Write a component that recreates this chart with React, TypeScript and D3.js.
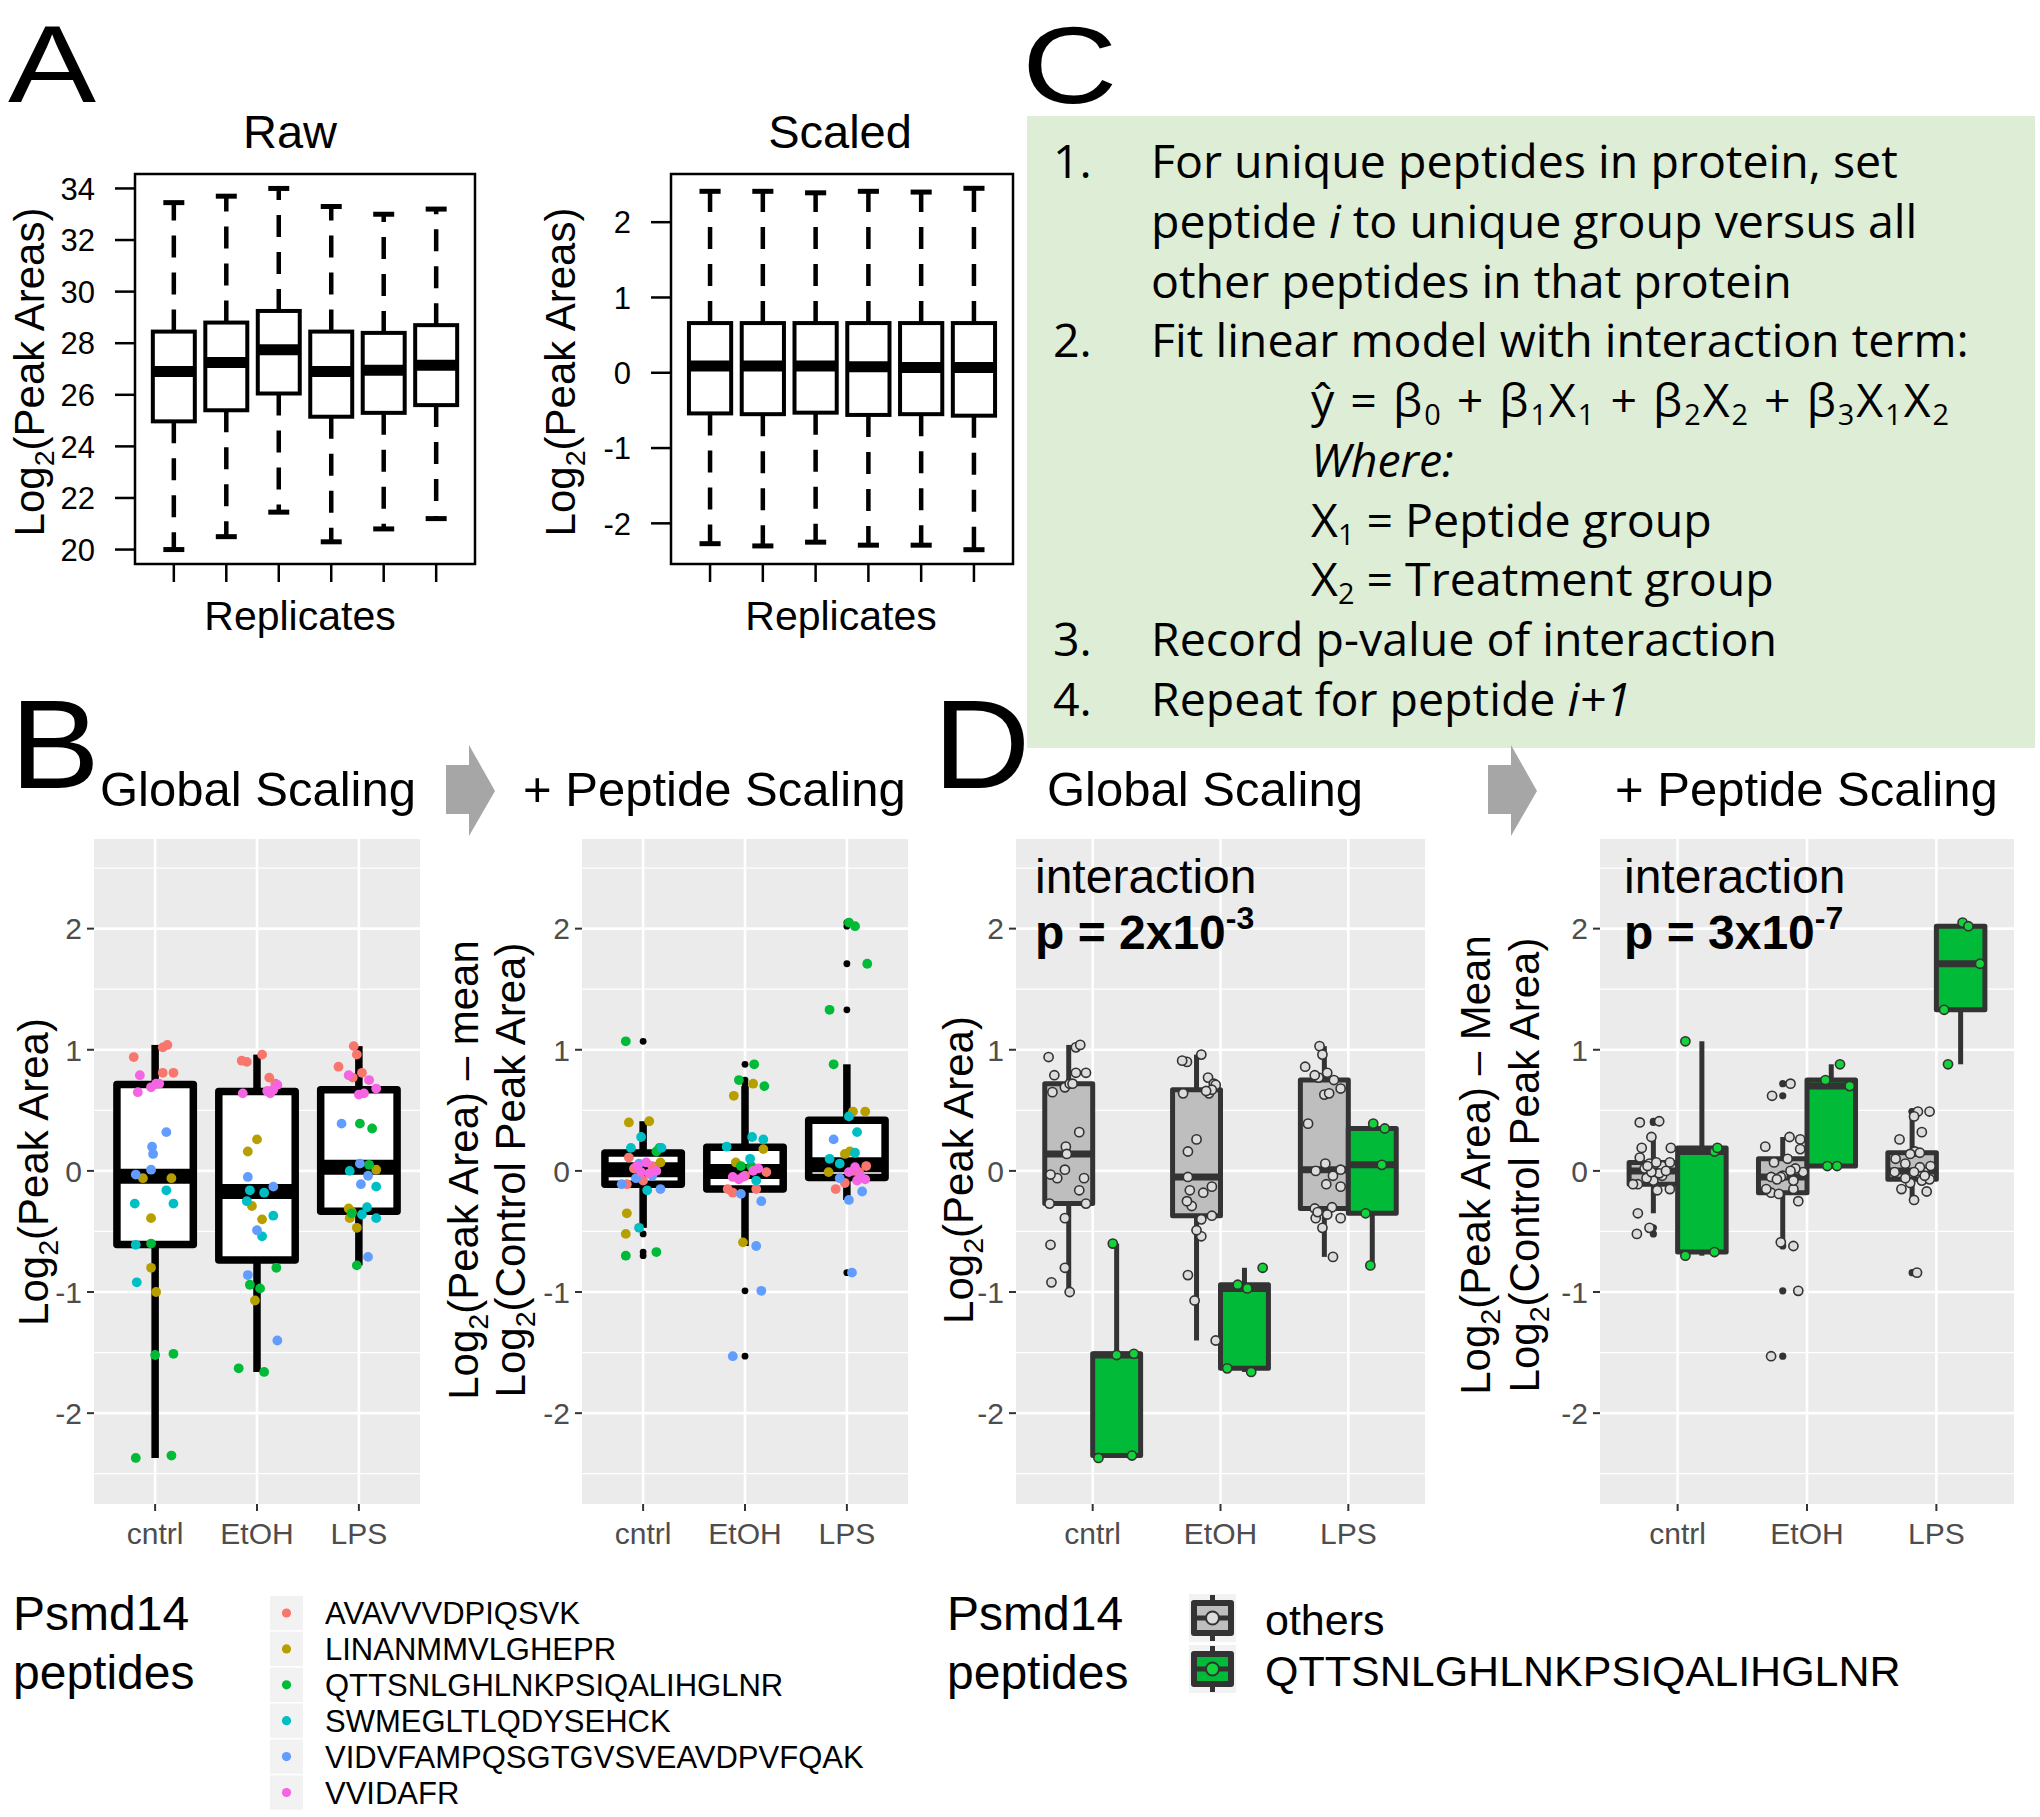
import React from 'react';
import * as d3 from 'd3';

const W = 2040;
const H = 1817;
const FONT = "'Liberation Sans', Arial, Helvetica, sans-serif";
const CFONT = "'Open Sans', 'Noto Sans', sans-serif";

// ---------------- Panel A data ----------------
const REPLICATES = [1, 2, 3, 4, 5, 6];
const RAW_LOW = [20.0, 20.5, 21.45, 20.3, 20.8, 21.2];
const RAW_Q1 = [24.97, 25.4, 26.05, 25.15, 25.3, 25.6];
const RAW_MED = [26.9, 27.25, 27.75, 26.9, 26.95, 27.15];
const RAW_Q3 = [28.45, 28.8, 29.25, 28.45, 28.4, 28.7];
const RAW_HIGH = [33.45, 33.7, 34.0, 33.3, 33.0, 33.2];
const RAW_TICKS = [20, 22, 24, 26, 28, 30, 32, 34];

const SCALED_LOW = [-2.27, -2.3, -2.25, -2.29, -2.29, -2.35];
const SCALED_Q1 = [-0.54, -0.55, -0.53, -0.56, -0.55, -0.57];
const SCALED_MED = [0.09, 0.09, 0.09, 0.08, 0.07, 0.07];
const SCALED_Q3 = [0.66, 0.66, 0.66, 0.66, 0.66, 0.66];
const SCALED_HIGH = [2.41, 2.41, 2.39, 2.41, 2.4, 2.45];
const SCALED_TICKS = [-2, -1, 0, 1, 2];

// ---------------- Panels B / D data ----------------
const GROUPS = ['cntrl', 'EtOH', 'LPS'];
const PEPTIDES = [
  'AVAVVVDPIQSVK',
  'LINANMMVLGHEPR',
  'QTTSNLGHLNKPSIQALIHGLNR',
  'SWMEGLTLQDYSEHCK',
  'VIDVFAMPQSGTGVSVEAVDPVFQAK',
  'VVIDAFR',
];
const PEPTIDE_COLORS = ['#F8766D', '#B79F00', '#00BA38', '#00BFC4', '#619CFF', '#F564E3'];
const UNIQUE_PEPTIDE = 2;
const D_LEGEND = ['others', 'QTTSNLGHLNKPSIQALIHGLNR'];
const GG_TICKS = [-2, -1, 0, 1, 2];
const GG_MINOR = [-2.5, -1.5, -0.5, 0.5, 1.5, 2.5];

// Global scaling: [cntrl, EtOH, LPS] x 5 replicates
const GLOBAL_AVAV = [[0.94, 1.02, 1.04, 0.81, 0.81], [0.96, 0.9, 0.91, 0.77, 0.72], [1.03, 0.96, 0.86, 0.81, 0.77]];
const GLOBAL_LINA = [[-0.06, -0.06, -0.39, -0.8, -1.0], [0.26, 0.16, -0.29, -0.4, -1.07], [0.01, -0.31, -0.39, -0.47, -0.34]];
const GLOBAL_QTTS = [[-0.6, -1.52, -1.51, -2.37, -2.35], [-0.8, -0.94, -0.97, -1.63, -1.66], [0.39, 0.35, 0.05, -0.35, -0.78]];
const GLOBAL_SWME = [[-0.27, -0.16, -0.27, -0.61, -0.92], [-0.16, -0.18, -0.25, -0.37, -0.54], [0.0, -0.13, -0.3, -0.36, -0.39]];
const GLOBAL_VIDV = [[0.32, 0.2, 0.14, 0.01, -0.03], [-0.05, -0.13, -0.49, -0.86, -1.4], [0.39, 0.06, -0.04, -0.11, -0.71]];
const GLOBAL_VVID = [[0.79, 0.65, 0.69, 0.72, 0.72], [0.64, 0.64, 0.71, 0.67, 0.66], [0.79, 0.75, 0.68, 0.63, 0.64]];
const GLOBAL_VALUES = [GLOBAL_AVAV, GLOBAL_LINA, GLOBAL_QTTS, GLOBAL_SWME, GLOBAL_VIDV, GLOBAL_VVID];

// Peptide scaling: [cntrl, EtOH, LPS] x 5 replicates
const PEPSC_AVAV = [[-0.11, 0.02, 0.11, 0.04, -0.08], [-0.18, -0.15, -0.01, -0.04, -0.15], [-0.15, -0.1, 0.04, -0.01, 0.0]];
const PEPSC_LINA = [[0.4, 0.41, -0.35, -0.52, 0.07], [0.62, 0.72, 0.18, 0.07, -0.59], [0.49, 0.49, 0.16, -0.01, 0.14]];
const PEPSC_QTTS = [[1.07, -0.7, -0.67, 0.16, 0.19], [0.88, 0.75, 0.7, 0.04, 0.04], [2.05, 2.02, 1.71, 1.33, 0.88]];
const PEPSC_SWME = [[0.28, 0.19, -0.16, -0.47, 0.19], [0.28, 0.26, 0.2, 0.1, -0.08], [0.45, 0.32, 0.15, 0.1, 0.06]];
const PEPSC_VIDV = [[-0.15, -0.11, 0.06, -0.04, -0.06], [-0.25, -0.62, -0.99, -1.53, -0.19], [0.26, -0.24, -0.17, -0.84, -0.06]];
const PEPSC_VVID = [[0.07, -0.02, -0.01, 0.0, 0.04], [-0.05, -0.05, 0.02, -0.07, 0.0], [0.03, -0.08, -0.07, -0.01, -0.04]];
const PEPSC_VALUES = [PEPSC_AVAV, PEPSC_LINA, PEPSC_QTTS, PEPSC_SWME, PEPSC_VIDV, PEPSC_VVID];

// horizontal jitter (category units)
const JIT_GLOBAL = [
  [[-0.21, 0.075, 0.12, 0.075, 0.18], [0.05, -0.1, -0.15, 0.12, 0.18], [-0.05, -0.02, -0.2, 0.03, -0.06]],
  [[-0.12, 0.16, -0.04, -0.04, 0.01], [0.0, -0.09, -0.05, 0.05, -0.02], [0.17, -0.1, -0.09, -0.02, -0.07]],
  [[-0.04, 0.0, 0.18, -0.19, 0.16], [0.19, -0.07, 0.03, -0.18, 0.07], [0.01, 0.13, 0.1, -0.07, -0.02]],
  [[-0.2, 0.11, 0.18, -0.19, -0.18], [-0.07, 0.07, -0.1, 0.16, 0.05], [-0.09, 0.17, 0.08, 0.03, 0.17]],
  [[0.11, -0.03, -0.02, -0.04, -0.19], [-0.09, 0.16, 0.0, -0.09, 0.2], [-0.17, 0.01, 0.09, 0.02, 0.09]],
  [[-0.15, -0.17, -0.04, 0.01, 0.04], [-0.14, 0.13, 0.2, 0.16, 0.1], [-0.1, 0.1, 0.17, 0.0, 0.05]],
];
const JIT_PEPSC = [
  [[-0.16, -0.09, -0.14, 0.09, 0.0], [-0.12, 0.11, 0.21, 0.0, -0.17], [-0.11, -0.02, 0.19, 0.12, 0.07]],
  [[-0.14, 0.06, -0.16, -0.17, 0.17], [-0.11, 0.08, 0.18, -0.09, -0.02], [0.06, 0.18, 0.03, -0.18, -0.02]],
  [[-0.17, -0.17, 0.13, 0.13, 0.16], [0.09, -0.06, 0.19, -0.04, 0.06], [0.02, 0.08, 0.2, -0.17, -0.13]],
  [[-0.02, -0.12, 0.04, -0.04, 0.18], [0.07, 0.18, -0.18, 0.05, 0.11], [0.02, 0.1, 0.08, -0.17, -0.07]],
  [[0.17, -0.21, -0.04, 0.09, -0.07], [0.16, 0.11, 0.16, -0.12, -0.04], [-0.13, 0.02, 0.15, 0.05, -0.07]],
  [[0.03, 0.06, -0.02, 0.13, -0.06], [-0.12, -0.02, 0.13, -0.06, 0.08], [0.08, 0.1, 0.18, 0.02, 0.13]],
];

// ---------------- Panel C text ----------------
type Seg = [string, string];
const C_LINES: { num: string; level: number; segs: Seg[]; fit?: number }[] = [
  { num: '1.', level: 0, segs: [['For unique peptides in protein, set', 'n']] },
  { num: '', level: 0, segs: [['peptide ', 'n'], ['i', 'i'], [' to unique group versus all', 'n']] },
  { num: '', level: 0, segs: [['other peptides in that protein', 'n']] },
  { num: '2.', level: 0, segs: [['Fit linear model with interaction term:', 'n']] },
  {
    num: '', level: 1, fit: 638,
    segs: [['ŷ = β', 'n'], ['0', 's'], [' + β', 'n'], ['1', 's'], ['X', 'n'], ['1', 's'], [' + β', 'n'], ['2', 's'], ['X', 'n'], ['2', 's'],
      [' + β', 'n'], ['3', 's'], ['X', 'n'], ['1', 's'], ['X', 'n'], ['2', 's']],
  },
  { num: '', level: 1, segs: [['Where:', 'i']] },
  { num: '', level: 1, segs: [['X', 'n'], ['1', 's'], [' = Peptide group', 'n']] },
  { num: '', level: 1, segs: [['X', 'n'], ['2', 's'], [' = Treatment group', 'n']] },
  { num: '3.', level: 0, segs: [['Record p-value of interaction', 'n']] },
  { num: '4.', level: 0, segs: [['Repeat for peptide ', 'n'], ['i+1', 'i']] },
];

// ---------------- helpers ----------------
function boxStats(vals: number[]) {
  const s = [...vals].sort(d3.ascending);
  const q1 = d3.quantileSorted(s, 0.25) as number;
  const med = d3.quantileSorted(s, 0.5) as number;
  const q3 = d3.quantileSorted(s, 0.75) as number;
  const iqr = q3 - q1;
  const lo = q1 - 1.5 * iqr;
  const hi = q3 + 1.5 * iqr;
  const inside = s.filter((v) => v >= lo && v <= hi);
  return { q1, med, q3, wlo: d3.min(inside) as number, whi: d3.max(inside) as number, out: s.filter((v) => v < lo || v > hi) };
}

function Log2Label({ cx, cy, rest, fs = 42 }: { cx: number; cy: number; rest: string; fs?: number }) {
  return (
    <text transform={`translate(${cx + fs * 0.36},${cy}) rotate(-90)`} textAnchor="middle" fontSize={fs} fill="#000">
      Log
      <tspan fontSize={fs * 0.68} dy={fs * 0.24}>2</tspan>
      <tspan dy={-fs * 0.24}>{rest}</tspan>
    </text>
  );
}

function BigLetter({ x, y, ch, fs, sx }: { x: number; y: number; ch: string; fs: number; sx: number }) {
  return (
    <text transform={`translate(${x},${y}) scale(${sx},1)`} fontSize={fs} fill="#000">{ch}</text>
  );
}

// ---------------- Panel A: base-R style boxplots ----------------
function BasePanel(props: {
  left: number; right: number; top: number; bottom: number; domain: [number, number]; ticks: number[];
  low: number[]; q1: number[]; med: number[]; q3: number[]; high: number[]; title: string; ylabelX: number;
  titleX: number; xlabX: number;
}) {
  const { left, right, top, bottom, domain, ticks, low, q1, med, q3, high, title, ylabelX, titleX, xlabX } = props;
  const y = d3.scaleLinear().domain(domain).range([bottom, top]);
  const x = d3.scaleLinear().domain([0.26, 6.74]).range([left, right]);
  const unit = x(2) - x(1);
  const hw = 0.4 * unit;
  return (
    <g>
      <text x={titleX} y={148} textAnchor="middle" fontSize={47}>{title}</text>
      <rect x={left} y={top} width={right - left} height={bottom - top} fill="none" stroke="#000" strokeWidth={2.5} />
      {ticks.map((t) => (
        <g key={t}>
          <line x1={left - 20} x2={left} y1={y(t)} y2={y(t)} stroke="#000" strokeWidth={2.5} />
          <text x={left - 40} y={y(t)} dy="0.36em" textAnchor="end" fontSize={31}>{t}</text>
        </g>
      ))}
      {REPLICATES.map((r, i) => {
        const px = x(r);
        return (
          <g key={r}>
            <line x1={px} x2={px} y1={bottom} y2={bottom + 18} stroke="#000" strokeWidth={2.5} />
            <line x1={px} x2={px} y1={y(q3[i])} y2={y(high[i])} stroke="#000" strokeWidth={4.5} strokeDasharray="22 15" />
            <line x1={px} x2={px} y1={y(q1[i])} y2={y(low[i])} stroke="#000" strokeWidth={4.5} strokeDasharray="22 15" />
            <line x1={px - hw / 2} x2={px + hw / 2} y1={y(high[i])} y2={y(high[i])} stroke="#000" strokeWidth={5} />
            <line x1={px - hw / 2} x2={px + hw / 2} y1={y(low[i])} y2={y(low[i])} stroke="#000" strokeWidth={5} />
            <rect x={px - hw} y={y(q3[i])} width={2 * hw} height={y(q1[i]) - y(q3[i])} fill="#fff" stroke="#000" strokeWidth={4} />
            <line x1={px - hw} x2={px + hw} y1={y(med[i])} y2={y(med[i])} stroke="#000" strokeWidth={11} />
          </g>
        );
      })}
      <text x={xlabX} y={630} textAnchor="middle" fontSize={41}>Replicates</text>
      <Log2Label cx={ylabelX} cy={372} rest="(Peak Areas)" fs={42} />
    </g>
  );
}

// ---------------- ggplot-like panel frame ----------------
const GG_TOP = 839;
const GG_BOTTOM = 1504;
const yGG = d3.scaleLinear().domain([-2.75, 2.74]).range([GG_BOTTOM, GG_TOP]);

function GGFrame({ x0, x1 }: { x0: number; x1: number }) {
  const x = d3.scaleLinear().domain([0.4, 3.6]).range([x0, x1]);
  return (
    <g>
      <rect x={x0} y={GG_TOP} width={x1 - x0} height={GG_BOTTOM - GG_TOP} fill="#EBEBEB" />
      {GG_MINOR.map((t) => (
        <line key={'m' + t} x1={x0} x2={x1} y1={yGG(t)} y2={yGG(t)} stroke="#fff" strokeWidth={1.3} />
      ))}
      {GG_TICKS.map((t) => (
        <line key={'M' + t} x1={x0} x2={x1} y1={yGG(t)} y2={yGG(t)} stroke="#fff" strokeWidth={2.6} />
      ))}
      {GROUPS.map((g, i) => (
        <line key={g} x1={x(i + 1)} x2={x(i + 1)} y1={GG_TOP} y2={GG_BOTTOM} stroke="#fff" strokeWidth={2.6} />
      ))}
      {GG_TICKS.map((t) => (
        <g key={'t' + t}>
          <line x1={x0 - 7} x2={x0} y1={yGG(t)} y2={yGG(t)} stroke="#333" strokeWidth={2} />
          <text x={x0 - 12} y={yGG(t)} dy="0.36em" textAnchor="end" fontSize={30} fill="#4D4D4D">{t}</text>
        </g>
      ))}
      {GROUPS.map((g, i) => (
        <g key={'x' + g}>
          <line x1={x(i + 1)} x2={x(i + 1)} y1={GG_BOTTOM} y2={GG_BOTTOM + 7} stroke="#333" strokeWidth={2} />
          <text x={x(i + 1)} y={1544} textAnchor="middle" fontSize={30} fill="#4D4D4D">{g}</text>
        </g>
      ))}
    </g>
  );
}

function GGBox({ cx, hw, st, fill, stroke, lw, medLw, outR, outFill }: any) {
  return (
    <g>
      <line x1={cx} x2={cx} y1={yGG(st.q3)} y2={yGG(st.whi)} stroke={stroke} strokeWidth={lw} />
      <line x1={cx} x2={cx} y1={yGG(st.q1)} y2={yGG(st.wlo)} stroke={stroke} strokeWidth={lw} />
      <rect x={cx - hw} y={yGG(st.q3)} width={2 * hw} height={Math.max(0.1, yGG(st.q1) - yGG(st.q3))}
        fill={fill} stroke={stroke} strokeWidth={lw} strokeLinejoin="round" />
      <line x1={cx - hw} x2={cx + hw} y1={yGG(st.med)} y2={yGG(st.med)} stroke={stroke} strokeWidth={medLw} />
      {st.out.map((v: number, k: number) => (
        <circle key={k} cx={cx} cy={yGG(v)} r={outR} fill={outFill} />
      ))}
    </g>
  );
}

// Panel B: colored peptide points over one box per group
function BPanel({ x0, x1, values, jitter }: { x0: number; x1: number; values: number[][][]; jitter: number[][][] }) {
  const x = d3.scaleLinear().domain([0.4, 3.6]).range([x0, x1]);
  const unit = x(2) - x(1);
  return (
    <g>
      <GGFrame x0={x0} x1={x1} />
      {GROUPS.map((g, gi) => {
        const all = values.flatMap((pep) => pep[gi]);
        const st = boxStats(all);
        return (
          <GGBox key={g} cx={x(gi + 1)} hw={0.375 * unit} st={st} fill="#fff" stroke="#000" lw={7.5} medLw={15} outR={3.4} outFill="#000" />
        );
      })}
      {values.map((pep, pi) =>
        pep.map((grp, gi) =>
          grp.map((v, ri) => (
            <circle key={`${pi}-${gi}-${ri}`} cx={x(gi + 1 + jitter[pi][gi][ri])} cy={yGG(v)} r={4.9} fill={PEPTIDE_COLORS[pi]} />
          ))
        )
      )}
    </g>
  );
}

const D_GRAY_FILL = '#BEBEBE';
const D_GREEN_FILL = '#00BA38';
const D_POINT_GRAY = '#DCDCDC';
const D_POINT_GREEN = '#12D43A';
const D_STROKE = '#333333';

// Panel D: others vs unique peptide, dodged
function DPanel({ x0, x1, values, jitter }: { x0: number; x1: number; values: number[][][]; jitter: number[][][] }) {
  const x = d3.scaleLinear().domain([0.4, 3.6]).range([x0, x1]);
  const unit = x(2) - x(1);
  const hw = 0.1875 * unit;
  return (
    <g>
      <GGFrame x0={x0} x1={x1} />
      {GROUPS.map((g, gi) => {
        const others = values.filter((_, pi) => pi !== UNIQUE_PEPTIDE).flatMap((pep) => pep[gi]);
        const uniq = values[UNIQUE_PEPTIDE][gi];
        return (
          <g key={g}>
            <GGBox cx={x(gi + 1 - 0.1875)} hw={hw} st={boxStats(others)} fill={D_GRAY_FILL} stroke={D_STROKE} lw={5} medLw={7} outR={3.6} outFill={D_STROKE} />
            <GGBox cx={x(gi + 1 + 0.1875)} hw={hw} st={boxStats(uniq)} fill={D_GREEN_FILL} stroke={D_STROKE} lw={5} medLw={7} outR={3.6} outFill={D_STROKE} />
          </g>
        );
      })}
      {values.map((pep, pi) =>
        pep.map((grp, gi) =>
          grp.map((v, ri) => {
            const isU = pi === UNIQUE_PEPTIDE;
            const c = gi + 1 + (isU ? 0.1875 : -0.1875) + jitter[pi][gi][ri] * 0.75;
            return (
              <circle key={`${pi}-${gi}-${ri}`} cx={x(c)} cy={yGG(v)} r={4.6}
                fill={isU ? D_POINT_GREEN : D_POINT_GRAY} stroke={D_STROKE} strokeWidth={1.6} />
            );
          })
        )
      )}
    </g>
  );
}

function PValue({ x, mant, exp }: { x: number; mant: string; exp: string }) {
  return (
    <g>
      <text x={x} y={893} fontSize={48} fill="#000">interaction</text>
      <text x={x} y={949} fontSize={48} fontWeight="bold" fill="#000">
        {`p = ${mant}x10`}
        <tspan fontSize={32} dy={-20}>{exp}</tspan>
      </text>
    </g>
  );
}

function Arrow({ x }: { x: number }) {
  const pts = [[0, 765], [23, 765], [23, 745], [49, 791], [23, 836], [23, 814], [0, 814]];
  return <polygon points={pts.map((p) => `${x + p[0]},${p[1]}`).join(' ')} fill="#A6A6A6" />;
}

function PanelC() {
  const numX = 1053;
  const levelX = [1151, 1311];
  const base0 = 178;
  const step = (716 - 178) / 9;
  const fs = 46.5;
  return (
    <g fontFamily={CFONT} fontSize={fs} fill="#000">
      <rect x={1027} y={116} width={1008} height={632} fill="#DDEDD6" />
      {C_LINES.map((ln, i) => {
        const by = base0 + i * step;
        const extra: any = ln.fit ? { textLength: ln.fit, lengthAdjust: 'spacing' } : {};
        return (
          <g key={i}>
            {ln.num && <text x={numX} y={by}>{ln.num}</text>}
            <text x={levelX[ln.level]} y={by} {...extra}>
              {ln.segs.map(([t, k], j) => {
                const prev = j > 0 ? ln.segs[j - 1][1] : 'n';
                let dy = 0;
                if (k === 's' && prev !== 's') dy = 8;
                if (k !== 's' && prev === 's') dy = -8;
                return (
                  <tspan key={j} dy={dy} fontSize={k === 's' ? fs * 0.62 : fs} fontStyle={k === 'i' ? 'italic' : 'normal'}>
                    {t}
                  </tspan>
                );
              })}
            </text>
          </g>
        );
      })}
    </g>
  );
}

function LegendB() {
  const kx = 270;
  const rowH = 35.9;
  const c0 = 1613;
  return (
    <g>
      <text x={13} y={1630} fontSize={48}>Psmd14</text>
      <text x={13} y={1689} fontSize={48}>peptides</text>
      {PEPTIDES.map((p, i) => {
        const cy = c0 + i * rowH;
        return (
          <g key={p}>
            <rect x={kx} y={cy - rowH / 2 + 0.8} width={33} height={rowH - 1.6} fill="#F2F2F2" />
            <circle cx={kx + 16.5} cy={cy} r={4.6} fill={PEPTIDE_COLORS[i]} />
            <text x={325} y={cy + 11} fontSize={31}>{p}</text>
          </g>
        );
      })}
    </g>
  );
}

function LegendD() {
  const kx = 1189;
  const centers = [1618, 1669];
  const fills = [D_GRAY_FILL, D_GREEN_FILL];
  const pfills = [D_POINT_GRAY, D_POINT_GREEN];
  return (
    <g>
      <text x={947} y={1630} fontSize={48}>Psmd14</text>
      <text x={947} y={1689} fontSize={48}>peptides</text>
      {D_LEGEND.map((lab, i) => {
        const cy = centers[i];
        return (
          <g key={lab}>
            <rect x={kx} y={cy - 24} width={47} height={48} fill="#F2F2F2" />
            <line x1={kx + 23.5} x2={kx + 23.5} y1={cy - 23} y2={cy + 23} stroke={D_STROKE} strokeWidth={5} />
            <rect x={kx + 5} y={cy - 15} width={37} height={30} fill={fills[i]} stroke={D_STROKE} strokeWidth={6} strokeLinejoin="round" />
            <line x1={kx + 5} x2={kx + 42} y1={cy} y2={cy} stroke={D_STROKE} strokeWidth={5} />
            <circle cx={kx + 23.5} cy={cy} r={6.5} fill={pfills[i]} stroke={D_STROKE} strokeWidth={2} />
            <text x={1265} y={cy + 17} fontSize={43}>{lab}</text>
          </g>
        );
      })}
    </g>
  );
}

export default function App() {
  React.useEffect(() => {
    document.body.style.margin = '0';
  }, []);
  return (
    <svg width={W} height={H} viewBox={`0 0 ${W} ${H}`} fontFamily={FONT}
      style={{ display: 'block', position: 'absolute', left: 0, top: 0, background: '#fff' }}>
      <rect x={0} y={0} width={W} height={H} fill="#fff" />
      {/* Panel letters */}
      <BigLetter x={8} y={102} ch="A" fs={110} sx={1.2} />
      <BigLetter x={1022} y={103} ch="C" fs={110} sx={1.2} />
      <BigLetter x={10} y={788} ch="B" fs={126} sx={1.07} />
      <BigLetter x={933} y={788} ch="D" fs={126} sx={1.07} />

      {/* Panel A */}
      <BasePanel left={135} right={475} top={174} bottom={564} domain={[19.44, 34.56]} ticks={RAW_TICKS}
        low={RAW_LOW} q1={RAW_Q1} med={RAW_MED} q3={RAW_Q3} high={RAW_HIGH} title="Raw" ylabelX={29}
        titleX={290} xlabX={300} />
      <BasePanel left={671} right={1013} top={174} bottom={564} domain={[-2.54, 2.64]} ticks={SCALED_TICKS}
        low={SCALED_LOW} q1={SCALED_Q1} med={SCALED_MED} q3={SCALED_Q3} high={SCALED_HIGH} title="Scaled" ylabelX={560}
        titleX={840} xlabX={841} />

      {/* Panel C */}
      <PanelC />

      {/* Panel B */}
      <text x={100} y={806} fontSize={49}>Global Scaling</text>
      <Arrow x={446} />
      <text x={523} y={806} fontSize={49}>+ Peptide Scaling</text>
      <BPanel x0={94} x1={420} values={GLOBAL_VALUES} jitter={JIT_GLOBAL} />
      <Log2Label cx={33} cy={1172} rest="(Peak Area)" />
      <BPanel x0={582} x1={908} values={PEPSC_VALUES} jitter={JIT_PEPSC} />
      <Log2Label cx={463} cy={1170} rest="(Peak Area) – mean" />
      <Log2Label cx={510} cy={1170} rest="(Control Peak Area)" />

      {/* Panel D */}
      <text x={1047} y={806} fontSize={49}>Global Scaling</text>
      <Arrow x={1488} />
      <text x={1615} y={806} fontSize={49}>+ Peptide Scaling</text>
      <DPanel x0={1016} x1={1425} values={GLOBAL_VALUES} jitter={JIT_GLOBAL} />
      <PValue x={1035} mant="2" exp="-3" />
      <Log2Label cx={958} cy={1170} rest="(Peak Area)" />
      <DPanel x0={1600} x1={2014} values={PEPSC_VALUES} jitter={JIT_PEPSC} />
      <PValue x={1624} mant="3" exp="-7" />
      <Log2Label cx={1475} cy={1165} rest="(Peak Area) – Mean" />
      <Log2Label cx={1524} cy={1165} rest="(Control Peak Area)" />

      {/* Legends */}
      <LegendB />
      <LegendD />
    </svg>
  );
}
